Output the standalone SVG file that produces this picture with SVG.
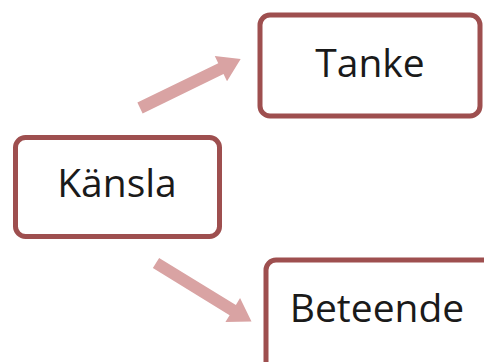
<svg xmlns="http://www.w3.org/2000/svg" width="484" height="362" viewBox="0 0 484 362">
<style>
.box{fill:#ffffff;stroke:#9e4f4f;stroke-width:5}
.lbl{font-family:"Open Sans","Liberation Sans",sans-serif;font-size:39px;fill:#1a1a1a;text-anchor:middle}
.arr{fill:#d9a3a3}
</style>
<defs>
<path id="arrow" class="arr" d="M0,-6 L90,-6 L90,-14 L112,0 L90,14 L90,6 L0,6 Z"/>
</defs>
<rect width="484" height="362" fill="#ffffff"/>
<g id="connectors">
<use href="#arrow" transform="translate(140,108) rotate(-26)"/>
<use href="#arrow" transform="translate(156,263) rotate(31.5)"/>
</g>
<g id="kansla">
<rect class="box" x="15.5" y="137.5" width="204" height="99" rx="10"/>
<text class="lbl" x="117" y="197">Känsla</text>
</g>
<g id="tanke">
<rect class="box" x="260" y="15" width="220" height="101" rx="10"/>
<text class="lbl" x="370" y="77">Tanke</text>
</g>
<g id="beteende">
<rect class="box" x="266" y="260" width="240" height="130" rx="10"/>
<text class="lbl" x="377" y="322">Beteende</text>
</g>
</svg>
